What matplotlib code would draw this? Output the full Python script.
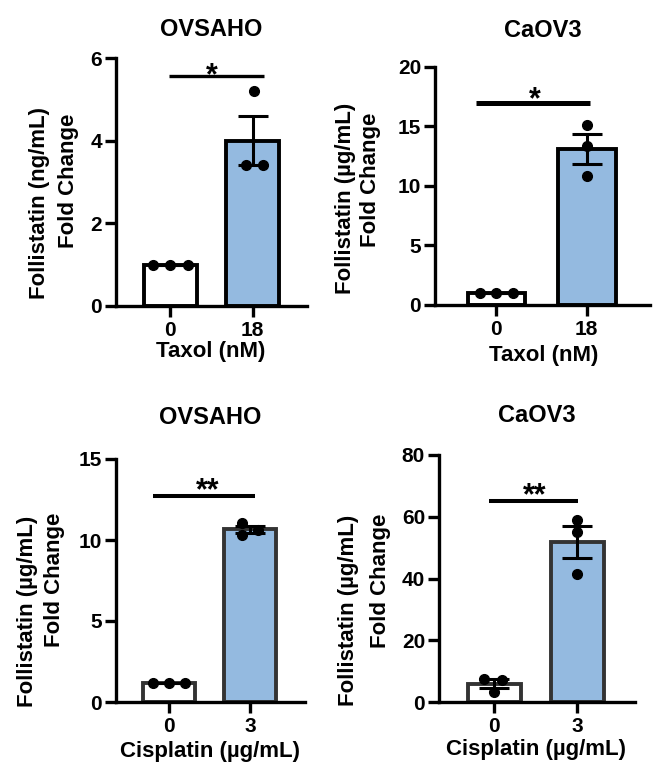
import numpy as np
import matplotlib
matplotlib.use("Agg")
import matplotlib.pyplot as plt

plt.rcParams['font.family'] = ['Liberation Sans', 'DejaVu Sans']
plt.rcParams['font.weight'] = 'bold'

# ---------------- data ----------------
titles = ["OVSAHO", "CaOV3", "OVSAHO", "CaOV3"]
x_tick_labels = [["0", "18"], ["0", "18"], ["0", "3"], ["0", "3"]]
x_labels = ["Taxol (nM)", "Taxol (nM)", "Cisplatin (µg/mL)", "Cisplatin (µg/mL)"]
y_label_line1 = ["Follistatin (ng/mL)", "Follistatin (µg/mL)", "Follistatin (µg/mL)", "Follistatin (µg/mL)"]
y_label_line2 = ["Fold Change", "Fold Change", "Fold Change", "Fold Change"]
y_max = [6, 20, 15, 80]
y_ticks = [[0, 2, 4, 6], [0, 5, 10, 15, 20], [0, 5, 10, 15], [0, 20, 40, 60, 80]]

control_values = [
    [1.0, 1.0, 1.0],
    [1.0, 1.0, 1.0],
    [1.15, 1.2, 1.15],
    [7.6, 7.0, 3.3],
]
treated_values = [
    [5.2, 3.4, 3.4],
    [15.1, 13.4, 10.8],
    [11.05, 10.6, 10.3],
    [59.0, 55.0, 41.5],
]
significance = ["*", "*", "**", "**"]
sig_line_y = [5.57, 17.0, 12.7, 65.0]
sig_text_y = [5.79, 18.0, 13.56, 69.6]

# ---------------- layout / style ----------------
W, H = 656, 776
# axes boxes in pixels: left, right, top(y at ymax), bottom(y at 0)
boxes = [(116, 307, 58, 306), (435, 650, 67, 305), (116, 305, 459, 702), (439, 635, 455, 702)]
xlims = [(-0.66, 1.66), (-0.68, 1.70), (-0.65, 1.68), (-0.67, 1.70)]
ctrl_offsets = [[-0.21, 0, 0.21], [-0.18, 0, 0.18], [-0.2, 0, 0.2], [-0.12, 0.09, 0.0]]
trt_offsets = [[0.02, -0.08, 0.12], [0.0, 0.0, 0.0], [-0.1, 0.1, -0.1], [0.0, 0.0, 0.0]]
sig_line_x = [(-0.02, 1.14), (-0.23, 1.04), (-0.2, 1.06), (-0.06, 1.01)]
sig_text_x = [0.5, 0.43, 0.48, 0.49]
sig_lw = [2.4, 3.6, 2.9, 2.9]
edge_colors = ["black", "black", "#333333", "#333333"]
title_y = [1.113, 1.155, 1.169, 1.158]
xlabel_pos = [(0.497, -0.185), (0.507, -0.214), (0.497, -0.202), (0.495, -0.194)]
ylab1_pos = [(-0.403, 0.415), (-0.414, 0.45), (-0.466, 0.374), (-0.464, 0.372)]
ylab2_pos = [(-0.251, 0.504), (-0.302, 0.525), (-0.323, 0.502), (-0.296, 0.49)]
blue = "#94BAE0"
fs_tick = 15
fs_label = 16
fs_title = 17
fs_star = 22

fig = plt.figure(figsize=(W / 100, H / 100), dpi=100)

for i in range(4):
    l, r, t, b = boxes[i]
    ax = fig.add_axes([l / W, 1 - b / H, (r - l) / W, (b - t) / H])
    ec = edge_colors[i]
    ctrl = np.array(control_values[i])
    trt = np.array(treated_values[i])
    means = [ctrl.mean(), trt.mean()]
    sems = [ctrl.std(ddof=1) / np.sqrt(len(ctrl)), trt.std(ddof=1) / np.sqrt(len(trt))]
    xs = [0, 1]
    ax.bar(xs, means, width=0.64, color=["white", blue], edgecolor=ec,
           linewidth=2.8, zorder=2)
    ax.errorbar(xs, means, yerr=sems, fmt='none', ecolor='black', elinewidth=2.2,
                capsize=11, capthick=2.2, zorder=3)
    ax.plot(0 + np.array(ctrl_offsets[i]), ctrl, 'o', color='black', ms=7, zorder=4,
            clip_on=False)
    ax.plot(1 + np.array(trt_offsets[i]), trt, 'o', color='black', ms=7, zorder=4,
            clip_on=False)

    ax.set_xlim(*xlims[i])
    ax.set_ylim(0, y_max[i])
    ax.set_yticks(y_ticks[i])
    ax.set_xticks(xs)
    ax.set_xticklabels(x_tick_labels[i])
    for s in ['top', 'right']:
        ax.spines[s].set_visible(False)
    for s in ['left', 'bottom']:
        ax.spines[s].set_linewidth(2.4)
        ax.spines[s].set_color('black')
    ax.tick_params(axis='both', width=2.4, length=8, labelsize=fs_tick, color='black')
    ax.tick_params(axis='x', pad=3)
    ax.tick_params(axis='y', pad=2)
    for lab in ax.get_xticklabels() + ax.get_yticklabels():
        lab.set_fontweight('bold')

    # significance
    x0, x1 = sig_line_x[i]
    ax.plot([x0, x1], [sig_line_y[i]] * 2, color='black', lw=sig_lw[i],
            solid_capstyle='butt', clip_on=False)
    ax.annotate(significance[i], xy=(sig_text_x[i], sig_text_y[i]),
                xytext=(0, -0.56 * fs_star), textcoords='offset points',
                ha='center', va='baseline', fontsize=fs_star, fontweight='bold')

    ax.text(0.5, title_y[i], titles[i], transform=ax.transAxes, ha='center',
            va='center', fontsize=fs_title, fontweight='bold')
    ax.text(*xlabel_pos[i], x_labels[i], transform=ax.transAxes, ha='center',
            va='center', fontsize=fs_label, fontweight='bold')
    ax.text(*ylab1_pos[i], y_label_line1[i], transform=ax.transAxes, ha='center',
            va='center', rotation=90, fontsize=fs_label, fontweight='bold')
    ax.text(*ylab2_pos[i], y_label_line2[i], transform=ax.transAxes, ha='center',
            va='center', rotation=90, fontsize=fs_label, fontweight='bold')

fig.savefig("out.png", dpi=100)
